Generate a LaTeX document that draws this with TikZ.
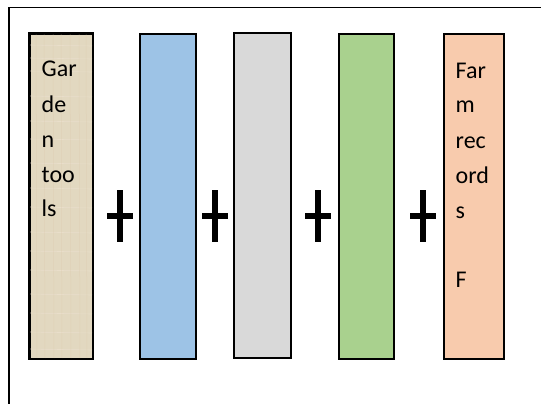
\documentclass[tikz,border=0pt]{standalone}
\usepackage{fontspec}
\setmainfont{Carlito}
\definecolor{papyrus}{HTML}{E2D8C0}
\definecolor{cblue}{HTML}{9DC3E6}
\definecolor{cgray}{HTML}{D9D9D9}
\definecolor{cgreen}{HTML}{A9D18E}
\definecolor{corange}{HTML}{F8CBAD}
\tikzset{
  bar/.style={draw=black, line width=1.6pt, anchor=north west, inner sep=0pt},
  word/.style={anchor=base west, inner sep=0pt, font=\fontsize{24}{35}\selectfont},
  plusbar/.style={line width=6pt},
}
\begin{document}
\begin{tikzpicture}[x=1pt,y=-1pt]
\useasboundingbox (0,0) rectangle (541,404);
% frame (left and top edges)
\coordinate (fbl) at (9,404);
\coordinate (ftl) at (9,7.5);
\coordinate (ftr) at (541,7.5);
\draw[line width=1.6pt] (fbl) -- (ftl) -- (ftr);
% bars
\node[bar, fill=papyrus, minimum width=63pt, minimum height=325pt] (b1) at (29,33) {};
\node[bar, fill=cblue, minimum width=56pt, minimum height=325pt] (b2) at (139,33) {};
\node[bar, fill=cgray, minimum width=57pt, minimum height=325pt] (b3) at (233,32) {};
\node[bar, fill=cgreen, minimum width=55pt, minimum height=325pt] (b4) at (338,33) {};
\node[bar, fill=corange, minimum width=60pt, minimum height=325pt] (b5) at (443,33) {};
% faint texture on first bar
\begin{scope}
\clip (b1.north west) rectangle (b1.south east);
\foreach \yy in {45,58,71,96,121,139,163,188,207,232,251,270,294,313,332,349}
  \draw[white!70!papyrus!85!brown, line width=0.6pt, opacity=0.6] (29,\yy) -- (92,\yy+1);
\foreach \xx in {36,44,53,61,70,79,86}
  \draw[papyrus!80!brown, line width=0.5pt, opacity=0.35] (\xx,33) -- (\xx+1,358);
\end{scope}
\draw[line width=1.6pt] (b1.north west) rectangle (b1.south east);
% plus signs
\foreach \cx/\nm in {120/p1,215/p2,318/p3,423/p4}{
  \coordinate (\nm t) at (\cx,190);
  \coordinate (\nm b) at (\cx,242);
  \coordinate (\nm l) at (\cx-13,216);
  \coordinate (\nm r) at (\cx+13,216);
  \draw[plusbar] (\nm t) -- (\nm b);
  \draw[plusbar] (\nm l) -- (\nm r);
}
% text in first bar
\node[word] (g1) at (41.5,77) {Gar};
\node[word] (g2) at (41.5,112) {de};
\node[word] (g3) at (41.5,147) {n};
\node[word] (g4) at (41.5,182) {too};
\node[word] (g5) at (41.5,216) {ls};
% text in last bar
\node[word] (f1) at (455.5,79) {Far};
\node[word] (f2) at (455.5,113) {m};
\node[word] (f3) at (455.5,148) {rec};
\node[word] (f4) at (455.5,183) {ord};
\node[word] (f5) at (455.5,218) {s};
\node[word] (f6) at (455.5,287) {F};
\end{tikzpicture}
\end{document}
